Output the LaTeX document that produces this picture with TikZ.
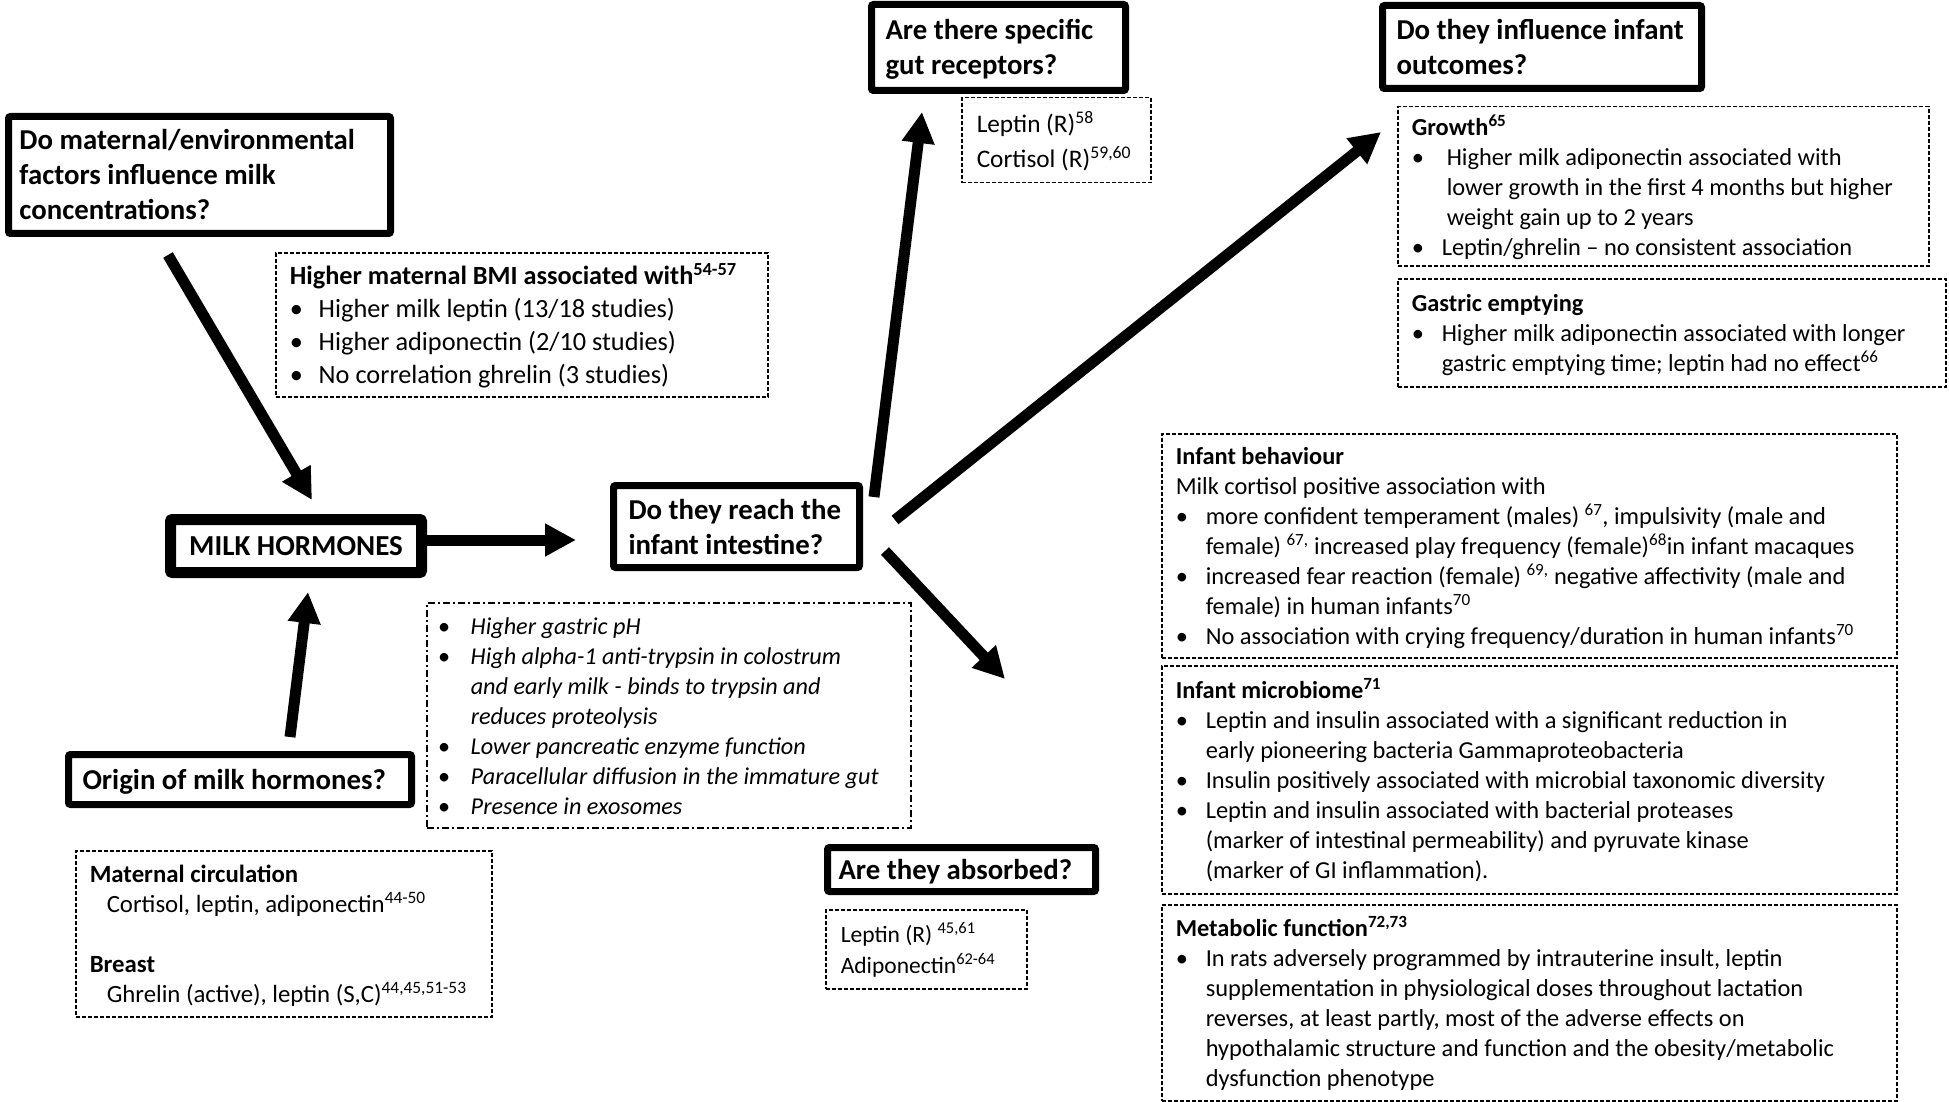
\documentclass[tikz,border=0pt]{standalone}
\usepackage{fontspec}
\setmainfont{Carlito}
\usetikzlibrary{arrows.meta}
\newcommand{\qf}{\fontsize{28.8}{35}\selectfont\bfseries}
\newcommand{\tf}{\fontsize{24.4}{30}\selectfont}
\newcommand{\bu}[1]{\makebox[#1][l]{\textbullet}}
\newcommand{\sk}[1]{\makebox[#1]{}}
\newcommand{\sups}[1]{\textsuperscript{#1}}
\newcommand{\tb}[2]{\raisebox{-3pt}[\height][\depth]{\makebox[#1][l]{\begin{tabular}{@{}l@{}}#2\end{tabular}}}}
\tikzset{
  qbox/.style={draw, line width=7pt, rounded corners=2pt, font=\qf, align=left, anchor=north west, inner ysep=0pt},
  dbox/.style={draw, line width=1.5pt, dash pattern=on 4pt off 2pt, font=\tf, align=left, anchor=north west, inner ysep=0pt},
  ddbox/.style={draw, line width=1.5pt, dash pattern=on 7pt off 3pt on 2pt off 3pt, font=\tf\itshape, align=left, anchor=north west, inner ysep=0pt},
  arr/.style={line width=11pt, -{Triangle[length=31pt,width=31pt]}}
}
\begin{document}
\begin{tikzpicture}[x=1pt,y=-1pt]
\useasboundingbox (0,0) rectangle (1949,1102);

% question boxes
\node[qbox, minimum width=382pt, minimum height=117pt, inner xsep=11pt] (qmat) at (5,113)
  {\tb{360pt}{Do maternal/environmental\\factors influence milk\\concentrations?}};
\node[qbox, line width=11pt, minimum width=251pt, minimum height=53pt, align=center, inner xsep=0pt, font=\fontsize{29}{35}\selectfont\bfseries] (milk) at (165,514)
  {MILK HORMONES};
\node[qbox, minimum width=246pt, minimum height=82pt, inner xsep=15pt] (reach) at (610,482)
  {\tb{216pt}{Do they reach the\\infant intestine?}};
\node[qbox, minimum width=343pt, minimum height=50pt, inner xsep=14pt] (orig) at (65,751)
  {\tb{315pt}{Origin of milk hormones?}};
\node[qbox, minimum width=254pt, minimum height=86pt, inner xsep=14pt] (gut) at (868,1)
  {\tb{226pt}{Are there specific\\gut receptors?}};
\node[qbox, minimum width=319pt, minimum height=83pt, inner xsep=14pt] (outc) at (1379,2)
  {\tb{291pt}{Do they influence infant\\outcomes?}};
\node[qbox, minimum width=268pt, minimum height=44pt, inner xsep=11pt] (absb) at (824,844)
  {\tb{246pt}{Are they absorbed?}};

% info boxes
\node[dbox, font=\fontsize{26.3}{33}\selectfont, minimum width=492pt, minimum height=144pt, inner xsep=14pt] (bmi) at (275,252)
  {\tb{464pt}{\textbf{Higher maternal BMI associated with\sups{54-57}}\\
   \bu{29pt}Higher milk leptin (13/18 studies)\\
   \bu{29pt}Higher adiponectin (2/10 studies)\\
   \bu{29pt}No correlation ghrelin (3 studies)}};
\node[dbox, font=\fontsize{24.8}{30}\selectfont, minimum width=416pt, minimum height=166pt, inner xsep=14pt] (src) at (75,850)
  {\tb{388pt}{\textbf{Maternal circulation}\\
   \sk{17pt}Cortisol, leptin, adiponectin\sups{44-50}\\[30pt]
   \textbf{Breast}\\
   \sk{17pt}Ghrelin (active), leptin (S,C)\sups{44,45,51-53}}};
\node[ddbox, font=\fontsize{24.2}{30}\selectfont\itshape, minimum width=484pt, minimum height=225pt, inner xsep=11pt] (mech) at (426,602)
  {\tb{462pt}{\bu{33pt}Higher gastric pH\\
   \bu{33pt}High alpha-1 anti-trypsin in colostrum\\
   \sk{33pt}and early milk - binds to trypsin and\\
   \sk{33pt}reduces proteolysis\\
   \bu{33pt}Lower pancreatic enzyme function\\
   \bu{33pt}Paracellular diffusion in the immature gut\\
   \bu{33pt}Presence in exosomes}};
\node[dbox, font=\fontsize{25.3}{35}\selectfont, minimum width=189pt, minimum height=85pt, inner xsep=15pt] (rec) at (961,97)
  {\tb{159pt}{Leptin (R)\sups{58}\\Cortisol (R)\sups{59,60}}};
\node[dbox, font=\fontsize{23.5}{31}\selectfont, minimum width=201pt, minimum height=79pt, inner xsep=15pt] (abl) at (825,909)
  {\tb{171pt}{Leptin (R) \sups{45,61}\\Adiponectin\sups{62-64}}};
\node[dbox, minimum width=531pt, minimum height=159pt, inner xsep=14pt] (grow) at (1397,106)
  {\tb{503pt}{\textbf{Growth\sups{65}}\\
   \bu{35pt}Higher milk adiponectin associated with\\
   \sk{35pt}lower growth in the first 4 months but higher\\
   \sk{35pt}weight gain up to 2 years\\
   \bu{30pt}Leptin/ghrelin -- no consistent association}};
\node[dbox, minimum width=548pt, minimum height=108pt, inner xsep=14pt] (gast) at (1397,278)
  {\tb{520pt}{\textbf{Gastric emptying}\\
   \bu{30pt}Higher milk adiponectin associated with longer\\
   \sk{30pt}gastric emptying time; leptin had no effect\sups{66}}};
\node[dbox, minimum width=735pt, minimum height=224pt, inner xsep=14pt] (behv) at (1161,433)
  {\tb{707pt}{\textbf{Infant behaviour}\\
   Milk cortisol positive association with\\
   \bu{30pt}more confident temperament (males) \sups{67}, impulsivity (male and\\
   \sk{30pt}female) \sups{67,} increased play frequency (female)\sups{68}in infant macaques\\
   \bu{30pt}increased fear reaction (female) \sups{69,} negative affectivity (male and\\
   \sk{30pt}female) in human infants\sups{70}\\
   \bu{30pt}No association with crying frequency/duration in human infants\sups{70}}};
\node[dbox, minimum width=735pt, minimum height=228pt, inner xsep=14pt] (micr) at (1161,665)
  {\tb{707pt}{\textbf{Infant microbiome\sups{71}}\\
   \bu{30pt}Leptin and insulin associated with a significant reduction in\\
   \sk{30pt}early pioneering bacteria Gammaproteobacteria\\
   \bu{30pt}Insulin positively associated with microbial taxonomic diversity\\
   \bu{30pt}Leptin and insulin associated with bacterial proteases\\
   \sk{30pt}(marker of intestinal permeability) and pyruvate kinase\\
   \sk{30pt}(marker of GI inflammation).}};
\node[dbox, minimum width=735pt, minimum height=196pt, inner xsep=14pt] (meta) at (1161,904)
  {\tb{707pt}{\textbf{Metabolic function\sups{72,73}}\\
   \bu{30pt}In rats adversely programmed by intrauterine insult, leptin\\
   \sk{30pt}supplementation in physiological doses throughout lactation\\
   \sk{30pt}reverses, at least partly, most of the adverse effects on\\
   \sk{30pt}hypothalamic structure and function and the obesity/metabolic\\
   \sk{30pt}dysfunction phenotype}};

% connector end points
\coordinate (a1) at (168,255);  \coordinate (a2) at (312,500);
\coordinate (o1) at (290,737);  \coordinate (o2) at (308,592);
\coordinate (m2) at (576,540);
\coordinate (r1) at (874,497);  \coordinate (r2) at (922,112);
\coordinate (s1) at (895,520);  \coordinate (s2) at (1381,132);
\coordinate (d1) at (885,551);  \coordinate (d2) at (1005,679);

\draw[arr] (a1) -- (a2);
\draw[arr] (o1) -- (o2);
\draw[arr] (milk.east |- m2) -- (m2);
\draw[arr] (r1) -- (r2);
\draw[arr] (s1) -- (s2);
\draw[arr] (d1) -- (d2);
\end{tikzpicture}
\end{document}
